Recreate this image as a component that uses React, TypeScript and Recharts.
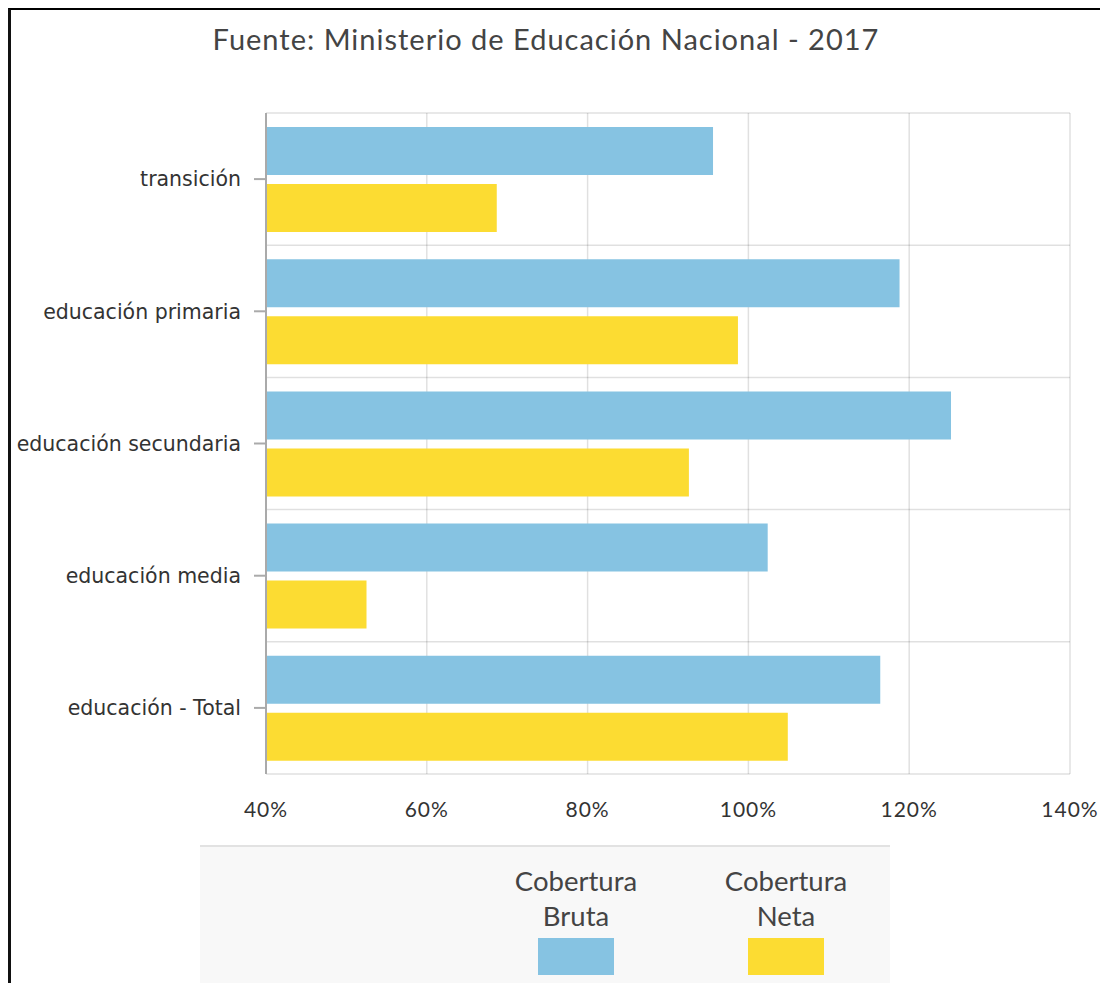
import React from "react";
import { BarChart, Bar, XAxis, YAxis, CartesianGrid } from "recharts";

const categories = [
  "transición",
  "educación primaria",
  "educación secundaria",
  "educación media",
  "educación - Total",
];
const coberturaBruta = [95.6, 118.8, 125.2, 102.4, 116.4];
const coberturaNeta = [68.7, 98.7, 92.6, 52.5, 104.9];
const xTicks = [40, 60, 80, 100, 120, 140];

const series = [
  { key: "bruta", label: ["Cobertura", "Bruta"], color: "#86C3E2" },
  { key: "neta", label: ["Cobertura", "Neta"], color: "#FCDC32" },
];

const data = categories.map((name, i) => ({
  name,
  bruta: coberturaBruta[i],
  neta: coberturaNeta[i],
}));

const geoFont = "Lato, 'Open Sans', sans-serif";

export default function App() {
  return (
    <div
      style={{
        position: "fixed",
        left: 8,
        top: 8,
        width: 1092,
        height: 975,
        overflow: "hidden",
        borderTop: "2px solid #000",
        borderLeft: "3px solid #111",
        boxSizing: "border-box",
        background: "#fff",
      }}
    >
      {/* título */}
      <div
        style={{
          position: "absolute",
          left: 135,
          top: 12,
          width: 800,
          textAlign: "center",
          fontFamily: geoFont,
          fontSize: 29,
          letterSpacing: 1,
          lineHeight: "34px",
          color: "#444",
        }}
      >
        Fuente: Ministerio de Educación Nacional - 2017
      </div>

      <div style={{ position: "absolute", left: 0, top: 0 }}>
        <BarChart
          width={1100}
          height={830}
          data={data}
          layout="vertical"
          margin={{ top: 103, right: 41, bottom: 6, left: 0 }}
          barSize={48}
          barGap={9}
        >
          <XAxis
            type="number"
            domain={[40, 140]}
            ticks={xTicks}
            tickFormatter={(v: number) => `${v}%`}
            axisLine={false}
            tickLine={false}
            tickSize={0}
            tickMargin={28}
            height={60}
            tick={{ fill: "#333", fontSize: 21, fontFamily: geoFont, letterSpacing: 1 }}
          />
          <YAxis
            type="category"
            dataKey="name"
            width={255}
            axisLine={{ stroke: "#aaa", strokeWidth: 2 }}
            tickLine={{ stroke: "#aaa", strokeWidth: 2 }}
            tickSize={12}
            tickMargin={13}
            tick={{ fill: "#333", fontSize: 20.5, fontFamily: "'DejaVu Sans', Verdana, sans-serif" }}
          />
          {series.map((s) => (
            <Bar key={s.key} dataKey={s.key} fill={s.color} isAnimationActive={false} />
          ))}
          {/* rejilla encima de las barras */}
          <CartesianGrid
            stroke="#000"
            strokeOpacity={0.12}
            strokeWidth={1.5}
            horizontalCoordinatesGenerator={({ offset }: any) =>
              categories
                .map((_, i) => offset.top + (i * offset.height) / categories.length)
                .concat(offset.top + offset.height)
            }
          />
        </BarChart>
      </div>

      {/* leyenda */}
      <div
        style={{
          position: "absolute",
          left: 189,
          top: 835,
          width: 690,
          height: 140,
          background: "#f8f8f8",
          borderTop: "2px solid #e2e2e2",
          boxSizing: "border-box",
          display: "flex",
          paddingLeft: 301,
          paddingTop: 16,
          gap: 60,
        }}
      >
        {series.map((s) => (
          <div
            key={s.key}
            style={{
              width: 150,
              display: "flex",
              flexDirection: "column",
              alignItems: "center",
              fontFamily: geoFont,
              fontSize: 27.5,
              lineHeight: "35px",
              color: "#444",
            }}
          >
            {s.label.map((l) => (
              <div key={l}>{l}</div>
            ))}
            <div style={{ width: 76, height: 37, background: s.color, marginTop: 5 }} />
          </div>
        ))}
      </div>
    </div>
  );
}
